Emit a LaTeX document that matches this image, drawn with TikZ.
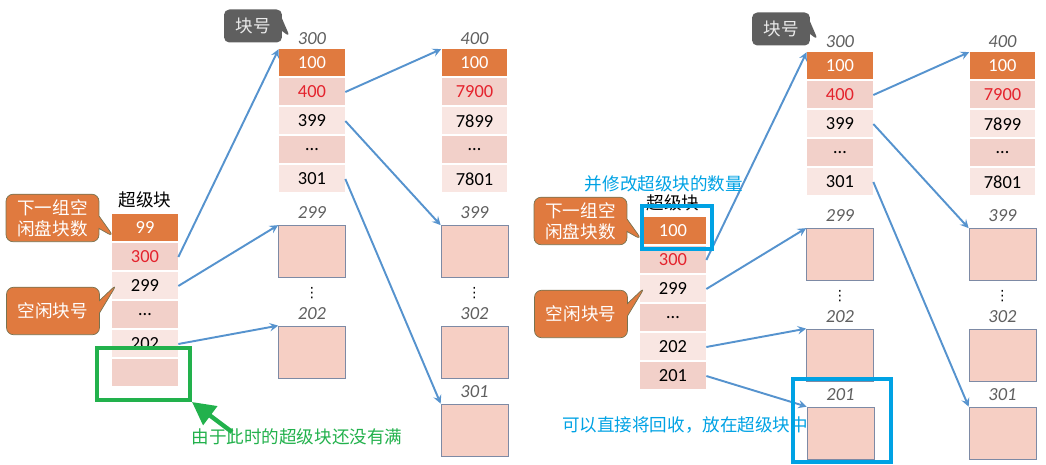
\documentclass[tikz,border=0pt]{standalone}
\usepackage{fontspec}
\setmainfont{Carlito}
\newfontfamily\cjk{Noto Sans CJK SC}
\newfontfamily\symf{DejaVu Sans}
\usetikzlibrary{arrows.meta, shapes.callouts, positioning}
\definecolor{HeadOrange}{RGB}{224,122,63}
\definecolor{RowDark}{RGB}{242,208,201}
\definecolor{RowLight}{RGB}{249,230,226}
\definecolor{BlockFill}{RGB}{246,207,196}
\definecolor{BlockEdge}{RGB}{125,138,165}
\definecolor{LinkBlue}{RGB}{86,147,206}
\definecolor{NumRed}{RGB}{228,35,45}
\definecolor{TagGray}{RGB}{95,95,95}
\definecolor{NoteGreen}{RGB}{34,177,76}
\definecolor{NoteBlue}{RGB}{0,162,228}
\definecolor{CallEdge}{RGB}{120,115,80}

\begin{document}
\begin{tikzpicture}[x=0.02cm, y=-0.02cm, >=stealth,
    cell/.style={minimum width=1.32cm, minimum height=0.54cm, inner sep=0pt, font=\fontsize{10.5}{12}\selectfont},
    hdrow/.style={cell, fill=HeadOrange, text=white},
    redrow/.style={cell, fill=RowDark, text=NumRed},
    litrow/.style={cell, fill=RowLight},
    drkrow/.style={cell, fill=RowDark},
    blk/.style={draw=BlockEdge, fill=BlockFill, minimum width=1.34cm, minimum height=1.04cm, inner sep=0pt},
    num/.style={font=\fontsize{10.5}{12}\selectfont\itshape, text=TagGray, inner sep=1pt},
    cn/.style={font=\cjk\fontsize{10}{12}\selectfont},
    link/.style={->, line width=1.1pt, LinkBlue},
    orcall/.style={rectangle callout, rounded corners=4pt, fill=HeadOrange, draw=CallEdge, text=white, cn, align=center, minimum width=1.86cm, minimum height=0.95cm, inner sep=1pt},
    graycall/.style={rectangle callout, rounded corners=3pt, fill=TagGray, text=white!92!black, cn, minimum width=1.16cm, minimum height=0.66cm, inner sep=1pt},
    hilite/.style={line width=2.3pt, minimum width=#1, inner sep=0pt},
    dots/.style={font=\symf\fontsize{8}{8}\selectfont, inner sep=0pt}]
    \useasboundingbox (0,0) rectangle (1046,465);
    \foreach \p/\dx/\dy/\sbtop/\sbend in {L/0/0/99/{}, R/528/3/100/201} {
        \node[cn] (\p sbt) at (145+\dx, 200+\dy) {超级块};
        \foreach \v/\s [count=\i] in {\sbtop/hdrow, 300/redrow, 299/litrow, \ldots/drkrow, 202/litrow, \sbend/drkrow}
            \node[\s] (\p s\i) at (145+\dx, 199+29*\i+\dy) {\v};
        \foreach \v/\s [count=\i] in {100/hdrow, 400/redrow, 399/litrow, \ldots/drkrow, 301/litrow}
            \node[\s] (\p a\i) at (312+\dx, 34+29*\i+\dy) {\v};
        \foreach \v/\s [count=\i] in {100/hdrow, 7900/redrow, 7899/litrow, \ldots/drkrow, 7801/litrow}
            \node[\s] (\p c\i) at (474.5+\dx, 34+29*\i+\dy) {\v};
        \node[num, above=1.5pt of \p a1] (\p t300) {300};
        \node[num, above=1.5pt of \p c1] (\p t400) {400};
        \foreach \lab/\x/\y in {299/312/251.5, 202/312/352, 399/474.5/251.5, 302/474.5/352, 301/474.5/430} {
            \node[blk] (\p b\lab) at (\x+\dx, \y+\dy) {};
            \node[num, above=2.5pt of \p b\lab] (\p t\lab) {\lab};
        }
        \node[dots] (\p d1) at (312+\dx, 293+\dy) {⋮};
        \node[dots] (\p d2) at (474.5+\dx, 293+\dy) {⋮};
        \coordinate (\p p1) at (114+\dx, 237+\dy);
        \coordinate (\p p2) at (117+\dx, 284+\dy);
        \coordinate (\p p3) at (290+\dx, 37+\dy);
        \node[orcall, callout absolute pointer={(\p p1)}] (\p k1) at (52.5+\dx, 218+\dy) {下一组空\\闲盘块数};
        \node[orcall, callout absolute pointer={(\p p2)}] (\p k2) at (53+\dx, 311+\dy) {空闲块号};
        \node[graycall, callout absolute pointer={(\p p3)}] (\p k3) at (253+\dx, 26+\dy) {块号};
        \draw[link] (\p s2.east) -- (\p a1.north west);
        \draw[link] (\p s3.east) -- (\p b299.north west);
        \draw[link] (\p s5.east) -- (\p b202.north west);
        \draw[link] (\p a2.east) -- (\p c1.north west);
        \draw[link] (\p a3.east) -- (\p b399.north west);
        \draw[link] (\p a5.east) -- (\p b301.north west);
    }
    \node[hilite=1.86cm, draw=NoteGreen, minimum height=1.04cm] (Lhl) at (143.5,374) {};
    \node[cn, text=NoteGreen] (Lnote) at (297,437) {由于此时的超级块还没有满};
    \coordinate (Ltail) at (232,432);
    \draw[NoteGreen, line width=2.5pt, -{Triangle[length=13pt,width=13pt]}] (Ltail) -- (Lhl.south east);
    \node[blk] (Rb201) at (840.5,433) {};
    \node[num, above=2.5pt of Rb201] (Rt201) {201};
    \draw[link] (Rs6.east) -- (Rb201.north west);
    \node[hilite=1.40cm, draw=NoteBlue, minimum height=0.86cm] (Rhl1) at (677,227.5) {};
    \node[hilite=1.96cm, draw=NoteBlue, minimum height=1.66cm] (Rhl2) at (842,420.5) {};
    \node[cn, text=NoteBlue] (Rn1) at (664,184) {并修改超级块的数量};
    \node[cn, text=NoteBlue] (Rn2) at (685,425) {可以直接将回收，放在超级块中};
\end{tikzpicture}
\end{document}
